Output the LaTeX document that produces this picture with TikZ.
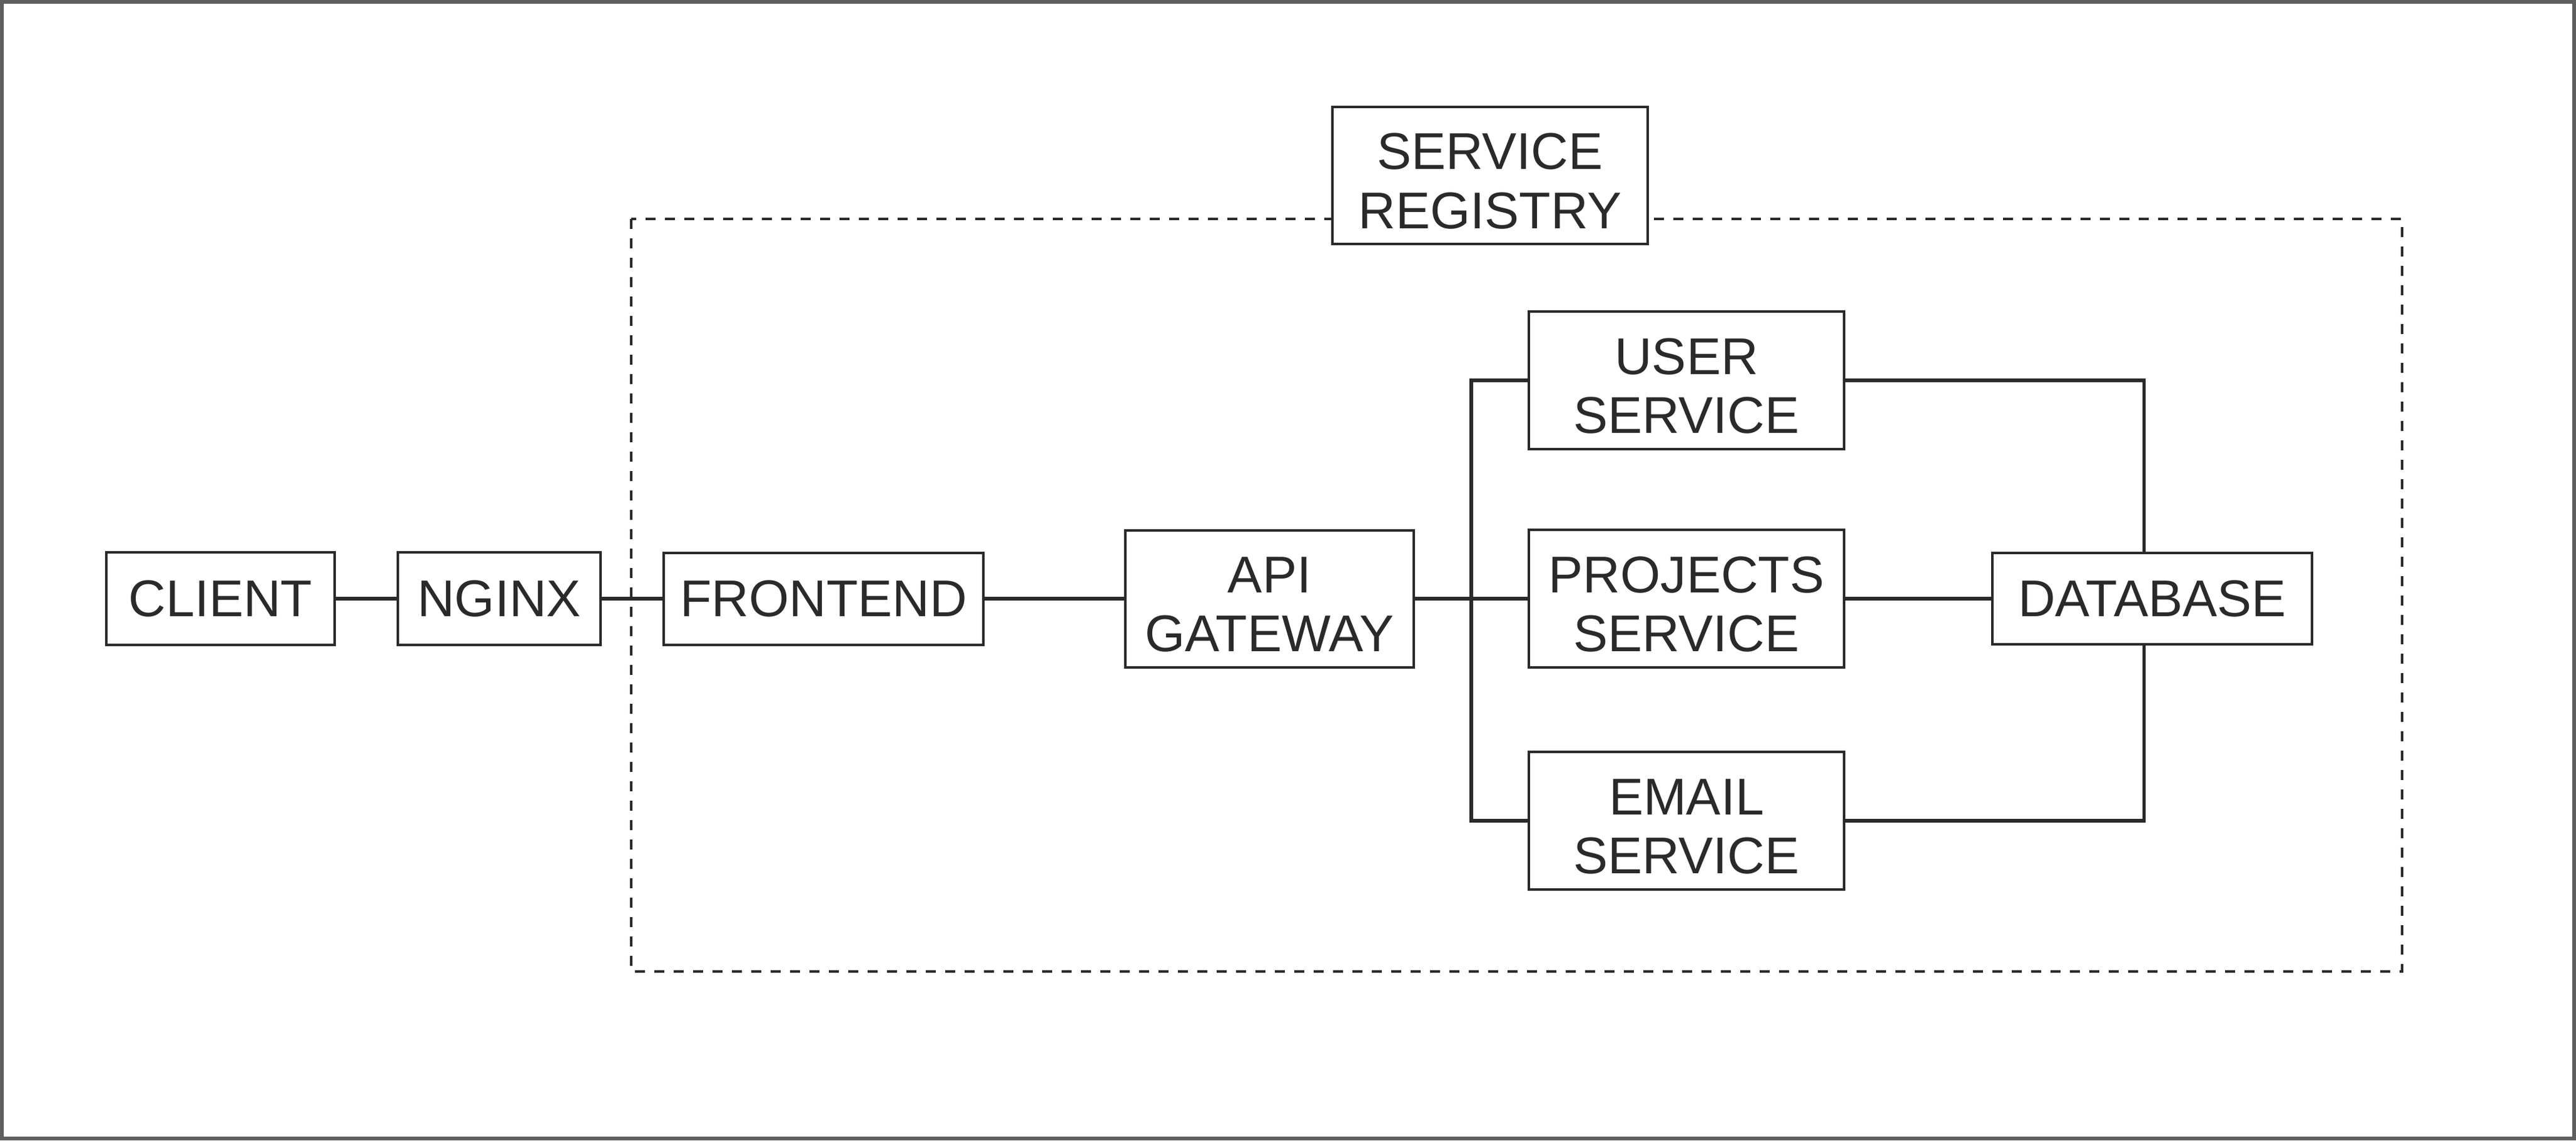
\documentclass[tikz,border=0pt]{standalone}
\usepackage{fontspec}
\setmainfont{Liberation Sans}
\usepackage{tikz}
\usetikzlibrary{calc,positioning}
\definecolor{ink}{HTML}{2A2A2A}
\tikzset{
	box/.style={shape=rectangle,draw=ink,line width=1.15pt,text=ink,align=center,inner sep=0pt,outer sep=0pt,
		font=\fontsize{23.5}{26.8}\selectfont},
	two/.style={text height=1.70cm},
	link/.style={draw=ink,line width=1.55pt},
	zone/.style={draw=ink,line width=0.95pt,dash pattern=on 0.16cm off 0.15cm}
}

\begin{document}
\begin{tikzpicture}
		\useasboundingbox (0,0) rectangle (41.18,-18.23);
		\draw[ink!75!white,line width=0.06cm] (0.03,-0.03) rectangle (41.15,-18.20);
		\begin{scope}
			% registry zone
			\draw[zone] (10.09,-3.50) rectangle (38.40,-15.53);

			\node(client) [box,minimum width=3.65cm,minimum height=1.48cm] at (3.525,-9.57) {CLIENT};
			\node(nginx) [box,right=1.01cm of client,minimum width=3.24cm,minimum height=1.48cm] {NGINX};
			\node(front) [box,right=1.01cm of nginx,minimum width=5.11cm,minimum height=1.47cm] {FRONTEND};
			\node(api) [box,two,right=2.27cm of front,minimum width=4.61cm,minimum height=2.19cm] {API\\GATEWAY};
			\node(proj) [box,two,right=1.84cm of api,minimum width=5.04cm,minimum height=2.20cm] {PROJECTS\\SERVICE};
			\node(user) [box,two,above=1.29cm of proj,minimum width=5.04cm,minimum height=2.20cm] {USER\\SERVICE};
			\node(email) [box,two,below=1.35cm of proj,minimum width=5.04cm,minimum height=2.20cm] {EMAIL\\SERVICE};
			\node(db) [box,right=2.37cm of proj,minimum width=5.11cm,minimum height=1.46cm] {DATABASE};
			\node(reg) [box,two,fill=white,minimum width=5.04cm,minimum height=2.19cm] at (23.82,-2.805) {SERVICE\\REGISTRY};

			\coordinate (bus) at ($(api.east)!0.5!(proj.west)$);
			\draw[link] (client) -- (nginx)
				  (nginx) -- (front)
				  (front) -- (api)
				  (api) -- (proj)
				  (proj) -- (db);
			\draw[link] (user.west) -| (bus) |- (email.west);
			\draw[link] (user.east) -| ([xshift=-0.13cm]db.north)
				  (email.east) -| ([xshift=-0.13cm]db.south);
		\end{scope}
	\end{tikzpicture}
\end{document}
